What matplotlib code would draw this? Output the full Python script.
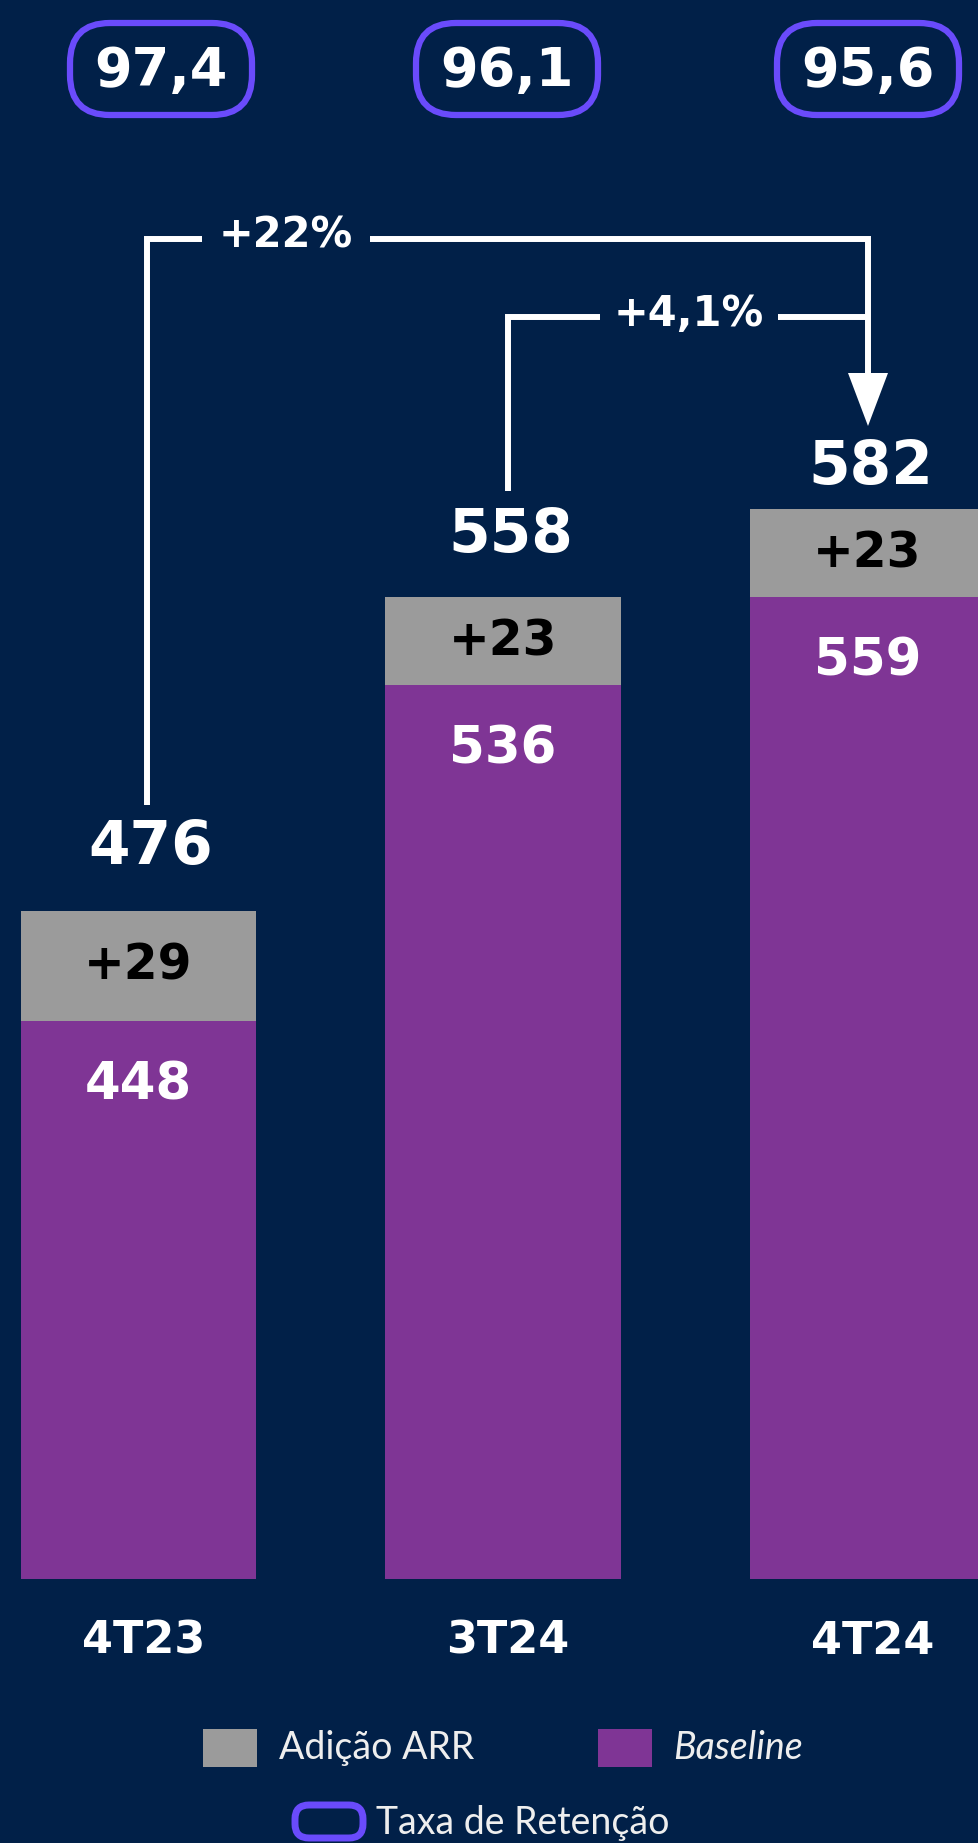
import matplotlib.pyplot as plt
from matplotlib.patches import FancyBboxPatch, Rectangle, Polygon

quarters = ['4T23', '3T24', '4T24']
baseline = [448, 536, 559]
adicao = [29, 23, 23]
totals = [476, 558, 582]
retencao = ['97,4', '96,1', '95,6']
growth = ['+22%', '+4,1%']

bg = '#012048'
purple = '#7f3595'
gray = '#9b9b9b'
violet = '#6a4bfb'

W, H = 979, 1843
fig = plt.figure(figsize=[W / 100, H / 100], dpi=100)
fig.patch.set_facecolor(bg)

# bar axes: bottom of bars at pixel 1579, axis starts near 302
ax = fig.add_axes([0, (H - 1579) / H, 1, 1579 / H])
ax.set_facecolor(bg)
ax.set_xlim(-0.38, 2.306)
ax.set_ylim(302, 302 + 1579 / 3.82)
ax.axis('off')

x = range(len(quarters))
ax.bar(x, baseline, width=0.645, color=purple, zorder=2)
ax.bar(x, adicao, width=0.645, bottom=baseline, color=gray, zorder=2)

top_off = [63, 62, 42]
x_off = [12, 8, 3]
for i in x:
    top = baseline[i] + adicao[i]
    ax.annotate('+%d' % adicao[i], (i, baseline[i] + adicao[i] / 2), xytext=(0, 0),
                textcoords='offset pixels', ha='center', va='center',
                fontsize=35, fontweight='bold', color='black', zorder=3)
    ax.annotate(str(baseline[i]), (i, baseline[i]), xytext=(0, -64),
                textcoords='offset pixels', ha='center', va='center',
                fontsize=37, fontweight='bold', color='white', zorder=3)
    ax.annotate(str(totals[i]), (i, top), xytext=(x_off[i], top_off[i]),
                textcoords='offset pixels', ha='center', va='center',
                fontsize=43, fontweight='bold', color='white', zorder=3)
    ax.annotate(quarters[i], (i, 302), xytext=(5, -62),
                textcoords='offset pixels', ha='center', va='center',
                fontsize=32, fontweight='bold', color='white', zorder=3)

# overlay in pixel coords for boxes, brackets, legend
ov = fig.add_axes([0, 0, 1, 1])
ov.set_xlim(0, W)
ov.set_ylim(H, 0)
ov.axis('off')
ov.patch.set_alpha(0)

box_x = [161, 507, 868]
for bx, r in zip(box_x, retencao):
    ov.add_patch(FancyBboxPatch((bx - 91, 23), 182, 92,
                                boxstyle='round,pad=0,rounding_size=40',
                                facecolor='none', edgecolor=violet, lw=4.5))
    ov.text(bx, 71, r, ha='center', va='center', fontsize=39,
            fontweight='bold', color='white')

lw = 4.3
# +22% bracket
ov.plot([147, 147, 868, 868], [805, 239, 239, 380], color='white', lw=lw,
        solid_joinstyle='miter', solid_capstyle='butt')
# +4,1% bracket
ov.plot([508, 508, 868], [491, 317, 317], color='white', lw=lw,
        solid_joinstyle='miter', solid_capstyle='butt')
ov.add_patch(Polygon([[848, 373], [888, 373], [868, 426]], closed=True,
                     facecolor='white', edgecolor='none'))
ov.text(286, 236, growth[0], ha='center', va='center', fontsize=30,
        fontweight='bold', color='white',
        bbox=dict(facecolor=bg, edgecolor='none', pad=12))
ov.text(689, 314, growth[1], ha='center', va='center', fontsize=30,
        fontweight='bold', color='white',
        bbox=dict(facecolor=bg, edgecolor='none', pad=10))

# legend
ov.add_patch(Rectangle((203, 1729), 54, 38, facecolor=gray, edgecolor='none'))
ov.text(279, 1748, 'Adição ARR', ha='left', va='center', fontsize=27,
        family='Lato', color='#eeeeee')
ov.add_patch(Rectangle((598, 1729), 54, 38, facecolor=purple, edgecolor='none'))
ov.text(673, 1748, 'Baseline', ha='left', va='center', fontsize=27,
        family='Lato', style='italic', color='#eeeeee')
ov.add_patch(FancyBboxPatch((295, 1805), 68, 33,
                            boxstyle='round,pad=0,rounding_size=14',
                            facecolor='none', edgecolor=violet, lw=5))
ov.text(376, 1823, 'Taxa de Retenção', ha='left', va='center', fontsize=27,
        family='Lato', color='#eeeeee')

plt.savefig('out.png', dpi=100, facecolor=bg)
